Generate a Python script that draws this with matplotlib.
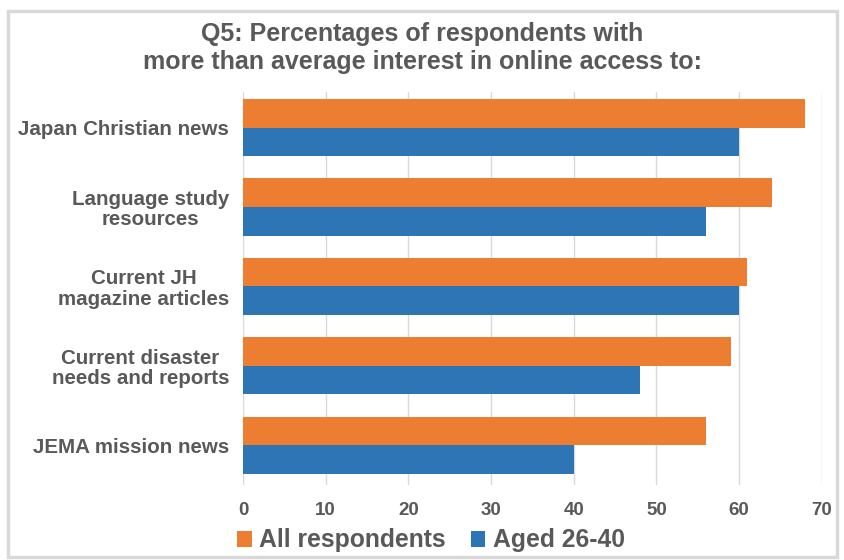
import matplotlib.pyplot as plt
from matplotlib.patches import Rectangle

categories = ["Japan Christian news", "Language study\nresources", "Current JH\nmagazine articles",
              "Current disaster\nneeds and reports", "JEMA mission news"]
all_resp = [68, 64, 61, 59, 56]
aged = [60, 56, 60, 48, 40]
series_names = ["All respondents", "Aged 26-40"]
xticks = [0, 10, 20, 30, 40, 50, 60, 70]

ORANGE = "#ED7D31"
BLUE = "#2E75B6"
GRAY = "#595959"

plt.rcParams['font.family'] = ['Liberation Sans', 'DejaVu Sans']
fig = plt.figure(figsize=(8.45, 5.6), dpi=100)
ax = fig.add_axes([0.2876, 0.134, 0.685, 0.702])

ypos = list(range(len(categories)))
h = 0.36
ax.barh([y - h / 2 for y in ypos], all_resp, height=h, color=ORANGE, label=series_names[0], zorder=3)
ax.barh([y + h / 2 for y in ypos], aged, height=h, color=BLUE, label=series_names[1], zorder=3)

ax.set_xlim(0, 70)
ax.set_ylim(4.5, -0.45)
ax.set_xticks(xticks)
ax.set_xticklabels([str(t) for t in xticks], fontsize=13.5, fontweight='bold', color=GRAY)
ax.set_yticks(ypos)
ax.set_yticklabels(categories, fontsize=14.8, fontweight='bold', color=GRAY, multialignment='center',
                   linespacing=1.1)
ax.tick_params(axis='x', length=0, pad=12)
ax.tick_params(axis='y', length=0, pad=10)
ax.grid(axis='x', color='#D9D9D9', linewidth=1, zorder=0)
for s in ax.spines.values():
    s.set_visible(False)

fig.text(0.5, 0.915, "Q5: Percentages of respondents with\nmore than average interest in online access to:",
         ha='center', va='center', fontsize=18, fontweight='bold', color=GRAY, linespacing=1.2)

leg = fig.legend(loc='center', bbox_to_anchor=(0.51, 0.035), ncol=2, frameon=False,
                 prop={'size': 17.8, 'weight': 'bold'}, handlelength=0.6, handleheight=0.6,
                 handletextpad=0.3, columnspacing=1.0)
for t in leg.get_texts():
    t.set_color(GRAY)

fig.patches.append(Rectangle((0.01, 0.005), 0.98, 0.975, transform=fig.transFigure,
                             fill=False, edgecolor='#D9D9D9', linewidth=2.5))

fig.savefig("out.png", dpi=100)
